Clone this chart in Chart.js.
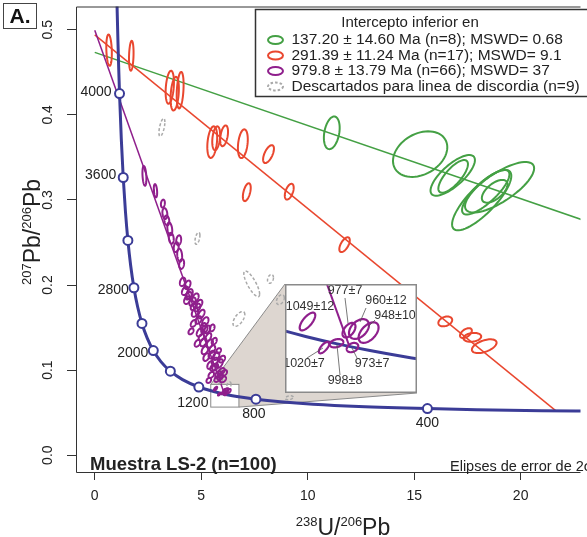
<!DOCTYPE html>
<html>
<head>
<meta charset="utf-8">
<script src="https://cdn.jsdelivr.net/npm/chart.js@4.4.1/dist/chart.umd.min.js"></script>
<style>
  html, body { margin: 0; padding: 0; background: #fff; }
  #wrap { position: relative; width: 587px; height: 537px; overflow: hidden; }
  #main { position: absolute; left: 0; top: 0; }
  #inset { position: absolute; left: 285px; top: 284px; }
</style>
</head>
<body>
<div id="wrap">
  <canvas id="main" width="587" height="537"></canvas>
  <canvas id="inset" width="132" height="109"></canvas>
</div>
<script>
// ---- data ----
const xTicks = [0, 5, 10, 15, 20];
const yTicks = [0.0, 0.1, 0.2, 0.3, 0.4, 0.5];

// concordia (Ma, 238U/206Pb, 207Pb/206Pb)
const concAges = [4400, 4300, 4200, 4100, 4000, 3800, 3600, 3400, 3200, 3000, 2800, 2600, 2400, 2200, 2000, 1800, 1600, 1400, 1200, 1000, 900, 800, 700, 600, 500, 400, 350, 300, 270];
const concX = [1.0215, 1.0543, 1.0888, 1.1249, 1.1630, 1.2453, 1.3370, 1.4397, 1.5557, 1.6874, 1.8383, 2.0128, 2.2168, 2.4585, 2.7489, 3.1044, 3.5495, 4.1224, 4.8876, 5.9593, 6.6743, 7.5683, 8.7184, 10.2522, 12.3993, 15.621, 17.923, 20.992, 23.379];
const concY = [0.5570, 0.5203, 0.4862, 0.4545, 0.4250, 0.3721, 0.3264, 0.2867, 0.2524, 0.2227, 0.1968, 0.1744, 0.1548, 0.1378, 0.1230, 0.1100, 0.0987, 0.0888, 0.0801, 0.0725, 0.0690, 0.0658, 0.0628, 0.0599, 0.0572, 0.0547, 0.0535, 0.0523, 0.05165];

const markerAges = [4000, 3600, 3200, 2800, 2400, 2000, 1600, 1200, 800, 400];
const markerX = [1.1630, 1.3370, 1.5557, 1.8383, 2.2168, 2.7489, 3.5495, 4.8876, 7.5683, 15.621];
const markerY = [0.4250, 0.3264, 0.2524, 0.1968, 0.1548, 0.1230, 0.0987, 0.0801, 0.0658, 0.0547];

// discordia lines
const greenLine = [[0, 0.4735], [23, 0.2757]];
const redLine = [[0, 0.494], [21.657, 0.0521]];
const purpleLine = [[0, 0.4994], [6.092, 0.0718]];

// ellipses: [x, y, 2s x, 2s y, rho]
const greenEllipses = [
  [11.13, 0.3789, 0.371, 0.0192, 0.3],
  [15.28, 0.3539, 1.275, 0.0268, 0.3],
  [16.81, 0.3289, 1.043, 0.0239, 0.75],
  [16.83, 0.3277, 0.695, 0.0192, 0.75],
  [18.17, 0.2998, 1.391, 0.0355, 0.8],
  [18.36, 0.3091, 1.113, 0.0262, 0.8],
  [19.01, 0.3149, 1.623, 0.0297, 0.75],
  [18.78, 0.3102, 0.603, 0.0134, 0.6]
];
const redEllipses = [
  [0.672, 0.4761, 0.130, 0.0184, -0.2],
  [1.715, 0.4695, 0.107, 0.0175, 0.2],
  [3.523, 0.4325, 0.195, 0.0194, 0.3],
  [3.755, 0.4249, 0.195, 0.0198, 0.3],
  [4.010, 0.4290, 0.162, 0.0215, 0.3],
  [5.517, 0.3679, 0.232, 0.0186, 0.3],
  [5.702, 0.3725, 0.185, 0.0140, 0.3],
  [6.073, 0.3754, 0.185, 0.0122, 0.4],
  [6.954, 0.3661, 0.232, 0.0169, 0.3],
  [8.160, 0.3539, 0.255, 0.0105, 0.6],
  [7.140, 0.3091, 0.185, 0.0105, 0.5],
  [9.133, 0.3097, 0.209, 0.0093, 0.5],
  [11.73, 0.2474, 0.246, 0.0087, 0.6],
  [16.46, 0.1572, 0.325, 0.0058, 0.3],
  [17.43, 0.1435, 0.278, 0.0058, 0.5],
  [17.73, 0.1385, 0.417, 0.0052, 0.2],
  [18.29, 0.1281, 0.580, 0.0081, 0.5]
];
const grayEllipses = [
  [3.153, 0.3853, 0.139, 0.0105, 0.6],
  [4.822, 0.2549, 0.116, 0.0070, 0.5],
  [7.371, 0.2014, 0.371, 0.0151, -0.8],
  [8.252, 0.2072, 0.139, 0.0052, 0.3],
  [6.769, 0.1601, 0.278, 0.0087, 0.6],
  [8.716, 0.1828, 0.185, 0.0058, 0.4],
  [9.133, 0.0675, 0.185, 0.0023, 0.3],
  [5.90, 0.0880, 0.100, 0.0040, 0.4],
  [6.30, 0.0820, 0.100, 0.0040, 0.4]
];
const purpleEllipses = [
  [2.332, 0.3283, 0.093, 0.0116, -0.3],
  [2.851, 0.3108, 0.079, 0.0078, -0.3],
  [3.199, 0.2957, 0.093, 0.0047, 0.2],
  [3.292, 0.2840, 0.116, 0.0064, -0.2],
  [3.523, 0.2660, 0.116, 0.0076, -0.3],
  [3.593, 0.2549, 0.116, 0.0064, -0.2],
  [3.825, 0.2445, 0.116, 0.0058, 0.2],
  [3.987, 0.2351, 0.116, 0.0076, -0.2],
  [4.242, 0.1932, 0.150, 0.0050, 0.4],
  [4.451, 0.1897, 0.150, 0.0055, 0.4],
  [4.335, 0.1822, 0.140, 0.0045, 0.3],
  [4.636, 0.1746, 0.130, 0.0040, 0.4],
  [4.706, 0.1676, 0.150, 0.0050, 0.4],
  [5.007, 0.1659, 0.150, 0.0050, 0.5],
  [4.868, 0.1589, 0.140, 0.0045, 0.4],
  [5.100, 0.1513, 0.130, 0.0040, 0.4],
  [5.517, 0.1496, 0.110, 0.0040, 0.3],
  [4.520, 0.1455, 0.120, 0.0035, 0.4],
  [4.937, 0.1443, 0.150, 0.0048, 0.4],
  [5.331, 0.1385, 0.140, 0.0050, 0.5],
  [5.100, 0.1327, 0.150, 0.0048, 0.4],
  [5.401, 0.1310, 0.150, 0.0050, 0.4],
  [5.169, 0.1234, 0.150, 0.0048, 0.4],
  [5.494, 0.1182, 0.150, 0.0045, 0.4],
  [5.818, 0.1228, 0.110, 0.0030, 0.3],
  [5.633, 0.1106, 0.150, 0.0040, 0.4],
  [5.865, 0.1077, 0.150, 0.0050, 0.5],
  [5.563, 0.1030, 0.140, 0.0040, 0.4],
  [5.957, 0.0989, 0.150, 0.0035, 0.4],
  [5.795, 0.0949, 0.140, 0.0040, 0.4],
  [5.355, 0.0879, 0.110, 0.0030, 0.3],
  [6.027, 0.0891, 0.140, 0.0035, 0.4],
  [4.404, 0.1874, 0.140, 0.0045, 0.4],
  [4.590, 0.1804, 0.150, 0.0050, 0.4],
  [4.821, 0.1735, 0.140, 0.0045, 0.4],
  [5.192, 0.1572, 0.150, 0.0050, 0.4],
  [5.285, 0.1478, 0.140, 0.0045, 0.4],
  [5.007, 0.1385, 0.130, 0.0040, 0.4],
  [5.610, 0.1339, 0.120, 0.0040, 0.4],
  [5.239, 0.1152, 0.140, 0.0045, 0.4],
  [5.424, 0.1059, 0.140, 0.0045, 0.4],
  [5.702, 0.1164, 0.150, 0.0045, 0.4],
  [5.980, 0.1129, 0.140, 0.0040, 0.4],
  [5.470, 0.0943, 0.130, 0.0035, 0.4],
  [5.749, 0.0896, 0.130, 0.0035, 0.4],
  [6.073, 0.0966, 0.140, 0.0035, 0.4],
  [4.358, 0.2002, 0.140, 0.0050, 0.4],
  [4.126, 0.2037, 0.130, 0.0050, 0.3],
  [4.729, 0.1851, 0.150, 0.0050, 0.4],
  [4.914, 0.1781, 0.140, 0.0045, 0.4],
  [4.636, 0.1548, 0.130, 0.0040, 0.4],
  [4.821, 0.1315, 0.130, 0.0040, 0.4],
  [5.517, 0.1246, 0.140, 0.0045, 0.4],
  [5.146, 0.1478, 0.150, 0.0045, 0.4],
  [5.656, 0.1036, 0.140, 0.0040, 0.4],
  [5.888, 0.0920, 0.140, 0.0035, 0.4],
  [4.080, 0.2247, 0.116, 0.0058, 0.2],
  [3.941, 0.2526, 0.116, 0.0058, 0.2],
  [3.384, 0.2759, 0.116, 0.0058, -0.2]
];
// zoomed ellipses (inset) and their ages
const insetEllipses = [
  [5.672, 0.0781, 0.078, 0.00225, 0.7],
  [5.838, 0.0715, 0.052, 0.00145, 0.7],
  [5.963, 0.0726, 0.068, 0.00105, 0.3],
  [6.088, 0.0759, 0.065, 0.00185, 0.5],
  [6.123, 0.0715, 0.058, 0.00118, 0.3],
  [6.188, 0.0762, 0.100, 0.00250, 0.4],
  [6.284, 0.0753, 0.100, 0.00260, 0.5]
];
const insetLabels = ['1049±12', '1020±7', '998±8', '977±7', '973±7', '960±12', '948±10'];
const insetConcX = [5.1204, 5.3749, 5.6533, 5.9593, 6.2980, 6.6743, 7.0950];
const insetConcY = [0.078123, 0.07619, 0.07432, 0.072500, 0.070743, 0.069043, 0.067394];
const zoomBox = [5.447, 6.769, 0.0565, 0.0832];   // x0, x1, y0, y1 of the small box
const insetRange = [5.447, 6.769, 0.0600, 0.0876];

const legendTitle = 'Intercepto inferior en';
const legendLabels = [
  '137.20 ± 14.60 Ma (n=8); MSWD= 0.68',
  '291.39 ± 11.24 Ma (n=17); MSWD= 9.1',
  '979.8 ± 13.79 Ma (n=66); MSWD= 37',
  'Descartados para linea de discordia (n=9)'
];

// ---- style / layout ----
const FONT = '"Liberation Sans", Arial, sans-serif';
const NAVY = '#3b3c97';
const GREEN = '#44a044';
const RED = '#e9472f';
const PURPLE = '#8f1f8c';
const GRAY = '#a9a9a9';
const INSET = { left: 285, top: 284, w: 132, h: 109 };
// label placement for concordia ages: [align, dx, dy]
const ageLabelPos = { 4000: ['right', -8, -1], 3600: ['right', -7, -2], 2800: ['right', -5, 2], 2000: ['right', -5, 3], 1200: ['center', -6, 16], 800: ['center', -2, 15], 400: ['center', 0, 15] };
// inset label placement [cx, cy] and leader line [x1,y1,x2,y2], inset pixels
const insetLabelPos = [
  [25, 23, null], [19, 80, [22, 74, 38, 64]], [60, 97, [55, 91, 52, 61]],
  [60, 7, [60, 14, 63, 39]], [87, 80, [72, 74, 67, 64]], [101, 17, [81, 24, 75, 38]], [110, 32, [90, 36, 83, 43]]
];

const pts = (xs, ys) => xs.map((v, i) => ({ x: v, y: ys[i] }));
const pairs = arr => arr.map(p => ({ x: p[0], y: p[1] }));

function drawEllipse(ctx, xs, ys, e) {
  const [cx, cy, sx, sy, r] = e;
  const k = Math.sqrt(1 - r * r);
  ctx.beginPath();
  for (let i = 0; i <= 64; i++) {
    const t = i / 64 * 2 * Math.PI;
    const px = xs.getPixelForValue(cx + sx * Math.cos(t));
    const py = ys.getPixelForValue(cy + sy * (r * Math.cos(t) + k * Math.sin(t)));
    if (i === 0) ctx.moveTo(px, py); else ctx.lineTo(px, py);
  }
  ctx.closePath();
  ctx.stroke();
}

function mixedText(ctx, parts, x, y, rotate) {
  ctx.save();
  ctx.translate(x, y);
  if (rotate) ctx.rotate(-Math.PI / 2);
  let total = 0;
  parts.forEach(p => { ctx.font = p[1] + 'px ' + FONT; total += ctx.measureText(p[0]).width; });
  let cur = -total / 2;
  ctx.textAlign = 'left';
  ctx.textBaseline = 'alphabetic';
  ctx.fillStyle = '#222';
  parts.forEach(p => {
    ctx.font = p[1] + 'px ' + FONT;
    ctx.fillText(p[0], cur, p[2]);
    cur += ctx.measureText(p[0]).width;
  });
  ctx.restore();
}

const mainDecor = {
  id: 'mainDecor',
  beforeDatasetsDraw(chart) {
    const { ctx, scales: { x, y } } = chart;
    const bx0 = x.getPixelForValue(zoomBox[0]), bx1 = x.getPixelForValue(zoomBox[1]);
    const by0 = y.getPixelForValue(zoomBox[2]), by1 = y.getPixelForValue(zoomBox[3]);
    ctx.save();
    // connector to the inset
    ctx.beginPath();
    ctx.moveTo(bx0, by1);
    ctx.lineTo(INSET.left, INSET.top);
    ctx.lineTo(INSET.left + INSET.w, INSET.top + INSET.h);
    ctx.lineTo(bx1, by0);
    ctx.lineTo(bx1, by1);
    ctx.closePath();
    ctx.fillStyle = '#ddd6d0';
    ctx.fill();
    ctx.strokeStyle = '#8a8a8a';
    ctx.lineWidth = 1;
    ctx.beginPath();
    ctx.moveTo(bx0, by1); ctx.lineTo(INSET.left, INSET.top);
    ctx.moveTo(bx1, by0); ctx.lineTo(INSET.left + INSET.w, INSET.top + INSET.h);
    ctx.stroke();
    ctx.fillStyle = '#fff';
    ctx.fillRect(bx0, by1, bx1 - bx0, by0 - by1);
    ctx.strokeRect(bx0, by1, bx1 - bx0, by0 - by1);
    ctx.restore();
  },
  afterDatasetsDraw(chart) {
    const { ctx, chartArea: a, scales: { x, y } } = chart;
    ctx.save();
    ctx.beginPath();
    ctx.rect(a.left, a.top, a.right - a.left, a.bottom - a.top);
    ctx.clip();
    ctx.lineWidth = 1.5;
    ctx.strokeStyle = GRAY;
    ctx.setLineDash([3, 2]);
    grayEllipses.forEach(e => drawEllipse(ctx, x, y, e));
    ctx.setLineDash([]);
    ctx.lineWidth = 2;
    ctx.strokeStyle = RED;
    redEllipses.forEach(e => drawEllipse(ctx, x, y, e));
    ctx.strokeStyle = GREEN;
    greenEllipses.forEach(e => drawEllipse(ctx, x, y, e));
    ctx.strokeStyle = PURPLE;
    ctx.lineWidth = 2;
    purpleEllipses.concat(insetEllipses).forEach(e => drawEllipse(ctx, x, y, e));
    ctx.restore();
  },
  afterDraw(chart) {
    const { ctx, chartArea: a, scales: { x, y } } = chart;
    ctx.save();
    // frame (left, top, bottom; the right side runs off the picture)
    ctx.strokeStyle = '#333';
    ctx.lineWidth = 1;
    ctx.beginPath();
    ctx.moveTo(a.right, a.top + 0.5);
    ctx.lineTo(a.left + 0.5, a.top + 0.5);
    ctx.lineTo(a.left + 0.5, a.bottom + 0.5);
    ctx.lineTo(a.right, a.bottom + 0.5);
    ctx.stroke();

    // y tick labels, rotated as in R
    ctx.fillStyle = '#222';
    ctx.font = '14px ' + FONT;
    ctx.textAlign = 'center';
    ctx.textBaseline = 'middle';
    y.ticks.forEach(t => {
      ctx.save();
      ctx.translate(48, y.getPixelForValue(t.value));
      ctx.rotate(-Math.PI / 2);
      ctx.fillText(t.value.toFixed(1), 0, 0);
      ctx.restore();
    });

    // axis titles
    mixedText(ctx, [['238', 13, -9], ['U/', 23, 0], ['206', 13, -9], ['Pb', 23, 0]], 343, 535, false);
    mixedText(ctx, [['207', 13, -9], ['Pb/', 23, 0], ['206', 13, -9], ['Pb', 23, 0]], 40, 232, true);

    // concordia age labels
    ctx.font = '14px ' + FONT;
    ctx.textBaseline = 'middle';
    markerAges.forEach((age, i) => {
      const p = ageLabelPos[age];
      if (!p) return;
      ctx.textAlign = p[0];
      ctx.fillText(String(age), x.getPixelForValue(markerX[i]) + p[1], y.getPixelForValue(markerY[i]) + p[2]);
    });

    // sample name and error note
    ctx.textAlign = 'left';
    ctx.textBaseline = 'alphabetic';
    ctx.font = 'bold 18.5px ' + FONT;
    ctx.fillText('Muestra LS-2 (n=100)', 90, 470);
    ctx.font = '14.5px ' + FONT;
    ctx.fillText('Elipses de error de 2σ', 450, 471);

    // legend
    ctx.fillStyle = '#fff';
    ctx.fillRect(255.5, 9.5, 340, 87);
    ctx.strokeStyle = '#333';
    ctx.lineWidth = 1.5;
    ctx.strokeRect(255.5, 9.5, 340, 87);
    ctx.fillStyle = '#222';
    ctx.font = '15px ' + FONT;
    ctx.textAlign = 'center';
    ctx.textBaseline = 'middle';
    ctx.fillText(legendTitle, 410, 23);
    const icons = [GREEN, RED, PURPLE, GRAY];
    legendLabels.forEach((lab, i) => {
      const cy = 40 + i * 15.5;
      ctx.strokeStyle = icons[i];
      ctx.lineWidth = 2;
      ctx.setLineDash(i === 3 ? [2.5, 2] : []);
      ctx.beginPath();
      ctx.ellipse(275.5, cy, 7.5, 4, 0, 0, 2 * Math.PI);
      ctx.stroke();
      ctx.setLineDash([]);
      ctx.fillStyle = '#222';
      ctx.font = '15.5px ' + FONT;
      ctx.textAlign = 'left';
      ctx.fillText(lab, 291.5, cy);
    });

    // panel letter
    ctx.fillStyle = '#fff';
    ctx.fillRect(3.5, 3.5, 33, 25);
    ctx.strokeStyle = '#444';
    ctx.lineWidth = 1;
    ctx.strokeRect(3.5, 3.5, 33, 25);
    ctx.fillStyle = '#111';
    ctx.font = 'bold 21px ' + FONT;
    ctx.textAlign = 'center';
    ctx.textBaseline = 'middle';
    ctx.fillText('A.', 20, 17);
    ctx.restore();
  }
};

new Chart(document.getElementById('main'), {
  type: 'scatter',
  data: {
    datasets: [
      { data: pts(markerX, markerY), pointRadius: 4.5, pointBackgroundColor: '#fff', pointBorderColor: NAVY, pointBorderWidth: 2, showLine: false },
      { data: pts(concX, concY), showLine: true, borderColor: NAVY, borderWidth: 3, pointRadius: 0, cubicInterpolationMode: 'monotone' },
      { data: pairs(purpleLine), showLine: true, borderColor: PURPLE, borderWidth: 1.5, pointRadius: 0 },
      { data: pairs(redLine), showLine: true, borderColor: RED, borderWidth: 1.5, pointRadius: 0 },
      { data: pairs(greenLine), showLine: true, borderColor: GREEN, borderWidth: 1.5, pointRadius: 0 }
    ]
  },
  options: {
    responsive: false,
    animation: false,
    layout: { padding: { top: 2, right: 0, bottom: 0, left: 0 } },
    plugins: { legend: { display: false }, tooltip: { enabled: false } },
    scales: {
      x: {
        type: 'linear', min: -0.881, max: 22.81,
        afterBuildTicks: s => { s.ticks = xTicks.map(v => ({ value: v })); },
        afterFit: s => { s.height = 65; },
        grid: { drawOnChartArea: false, drawTicks: true, tickLength: 8, color: '#333' },
        border: { display: false },
        ticks: { font: { family: FONT, size: 14 }, color: '#222', padding: 8, maxRotation: 0, autoSkip: false }
      },
      y: {
        type: 'linear', min: -0.0198, max: 0.5274,
        afterBuildTicks: s => { s.ticks = yTicks.map(v => ({ value: v })); },
        afterFit: s => { s.width = 76; },
        grid: { drawOnChartArea: false, drawTicks: true, tickLength: 9, color: '#333' },
        border: { display: false },
        ticks: { display: false }
      }
    }
  },
  plugins: [mainDecor]
});

// ---- inset ----
const insetDecor = {
  id: 'insetDecor',
  beforeDraw(chart) {
    const ctx = chart.ctx;
    ctx.save();
    ctx.fillStyle = '#fff';
    ctx.fillRect(0, 0, chart.width, chart.height);
    ctx.restore();
  },
  afterDatasetsDraw(chart) {
    const { ctx, scales: { x, y } } = chart;
    ctx.save();
    ctx.strokeStyle = PURPLE;
    ctx.lineWidth = 2.2;
    insetEllipses.forEach(e => drawEllipse(ctx, x, y, e));
    ctx.restore();
  },
  afterDraw(chart) {
    const ctx = chart.ctx;
    ctx.save();
    ctx.strokeStyle = '#555';
    ctx.lineWidth = 0.8;
    ctx.fillStyle = '#333';
    ctx.font = '12.5px ' + FONT;
    ctx.textAlign = 'center';
    ctx.textBaseline = 'middle';
    insetLabels.forEach((lab, i) => {
      const p = insetLabelPos[i];
      ctx.fillText(lab, p[0], p[1]);
      if (p[2]) {
        ctx.beginPath();
        ctx.moveTo(p[2][0], p[2][1]);
        ctx.lineTo(p[2][2], p[2][3]);
        ctx.stroke();
      }
    });
    ctx.strokeStyle = '#8a8a8a';
    ctx.lineWidth = 1.5;
    ctx.strokeRect(0.75, 0.75, chart.width - 1.5, chart.height - 1.5);
    ctx.restore();
  }
};

new Chart(document.getElementById('inset'), {
  type: 'scatter',
  data: {
    datasets: [
      { data: pts(insetConcX, insetConcY), showLine: true, borderColor: NAVY, borderWidth: 3, pointRadius: 0, cubicInterpolationMode: 'monotone' },
      { data: pairs(purpleLine), showLine: true, borderColor: PURPLE, borderWidth: 2, pointRadius: 0 }
    ]
  },
  options: {
    responsive: false,
    animation: false,
    layout: { padding: 0 },
    plugins: { legend: { display: false }, tooltip: { enabled: false } },
    scales: {
      x: { type: 'linear', min: insetRange[0], max: insetRange[1], display: false },
      y: { type: 'linear', min: insetRange[2], max: insetRange[3], display: false }
    }
  },
  plugins: [insetDecor]
});
</script>
</body>
</html>
